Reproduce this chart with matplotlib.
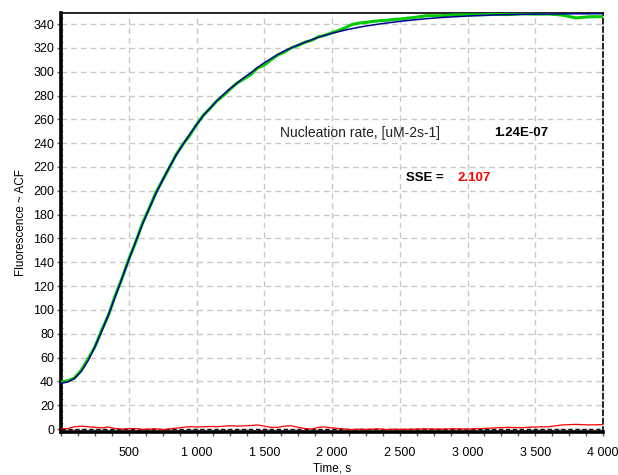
import matplotlib
matplotlib.use("Agg")
import matplotlib.pyplot as plt
from matplotlib.ticker import MultipleLocator, FuncFormatter

plt.rcParams['font.family'] = ['Liberation Sans', 'DejaVu Sans']

# Time grid (s)
time_s = [0, 50, 100, 150, 200, 250, 300, 350, 400, 450, 500, 550, 600, 650, 700,
          750, 800, 850, 900, 950, 1000, 1050, 1100, 1150, 1200, 1250, 1300, 1350,
          1400, 1450, 1500, 1550, 1600, 1650, 1700, 1750, 1800, 1850, 1900, 1950,
          2000, 2050, 2100, 2150, 2200, 2250, 2300, 2350, 2400, 2450, 2500, 2600,
          2700, 2800, 2900, 3000, 3100, 3200, 3300, 3400, 3500, 3600, 3700, 3800,
          3900, 4000]

# Model fit (blue)
fit_acf = [38.5, 39.5, 42.5, 48.5, 57.5, 69, 82, 96, 111, 126.5, 142, 157, 171.5,
           185, 197.5, 209, 220, 230, 239, 247.5, 255.5, 263, 269.5, 275.5, 281,
           286, 290.5, 295, 299, 303.5, 307.5, 311, 314.5, 317.5, 320, 322.5,
           324.7, 326.8, 328.8, 330.6, 332.2, 333.6, 335, 336.2, 337.3, 338.3,
           339.2, 340, 340.8, 341.5, 342.2, 343.4, 344.5, 345.4, 346.1, 346.7,
           347.2, 347.6, 347.9, 348.1, 348.3, 348.4, 348.5, 348.6, 348.6, 348.7]

# Measured fluorescence (green)
data_acf = [39.5, 40.5, 43, 49.5, 59, 69, 83, 95.5, 112, 126.5, 142.5, 156.5,
            172.5, 185, 198.5, 209, 219.5, 230.5, 239, 246.5, 255.5, 263.5, 269,
            275.5, 280, 285.5, 290.5, 294, 297.5, 303, 305.5, 310, 314, 316.5,
            320, 322, 324.7, 326.3, 329.3, 330.6, 332.7, 334.6, 337, 339.7, 340.8,
            341.3, 342.2, 342.7, 343.1, 343.8, 344.2, 345.4, 347, 346.9, 347.6,
            347.7, 347.7, 348.1, 347.9, 348.6, 348.3, 348.4, 347.5, 345.1, 346.1,
            346.2]

# Residuals (red)
resid = [0.3, 0.5, 2, 2.5, 2, 1.5, 1, 1.8, 0.5, 0, 0.3, 0.5, -0.3, 0, 0.3, -0.5,
         0.2, 0.8, 1.5, 2, 1.8, 2, 2.2, 2, 2.5, 2.8, 2.5, 2.7, 3, 3.5, 2.5, 1.5,
         1.5, 2.5, 2.8, 1.5, 0.5, 0, 1.5, 1.8, 1, 0.5, 0, -0.5, 0, -0.3, 0, 0.2,
         -0.5, 0, -0.3, 0, 0.2, 0, 0.3, 0, 0.5, 1, 1.5, 1.2, 1.8, 2, 3.5, 4, 3.5,
         3.8]

y_major = list(range(0, 341, 20))
x_major = [500, 1000, 1500, 2000, 2500, 3000, 3500, 4000]

W, H = 618, 475
fig = plt.figure(figsize=(W / 100, H / 100), dpi=100)
ax = fig.add_axes([61 / W, 1 - 431.5 / H, (603 - 61) / W, (431.5 - 13.3) / H])

ax.set_xlim(0, 4000)
ax.set_ylim(-2, 349)

ax.grid(True, which='major', color='#c8c8c8', linestyle=(0, (4, 3)), linewidth=1)
ax.set_axisbelow(True)

ax.axhline(0, color='black', linestyle=(0, (3, 2)), linewidth=1, zorder=2)
ax.plot(time_s, resid, color='#ff0000', linewidth=0.9, zorder=3)
ax.plot(time_s, data_acf, color='#00cc00', linewidth=2.2, zorder=4)
ax.plot(time_s, fit_acf, color='#000099', linewidth=1.1, zorder=5)

ax.set_yticks(y_major)
ax.set_xticks(x_major)
ax.xaxis.set_minor_locator(MultipleLocator(125))
ax.yaxis.set_minor_locator(MultipleLocator(5))
ax.xaxis.set_major_formatter(FuncFormatter(lambda v, p: f"{int(v):,}".replace(",", " ")))

ax.tick_params(axis='both', which='major', labelsize=9, length=3, width=1,
               color='#555555', pad=2)
ax.tick_params(axis='x', which='major', pad=8)
ax.tick_params(axis='x', which='minor', length=3, width=1, color='#555555')
ax.tick_params(axis='y', which='minor', length=1.5, width=0.8, color='#999999',
               direction='in')

for side in ('left', 'bottom'):
    ax.spines[side].set_linewidth(2.6)
ax.spines['top'].set_linewidth(1.2)
ax.spines['right'].set_linewidth(1.2)
ax.spines['right'].set_linestyle((0, (3, 2)))

ax.set_ylabel('Fluorescence ~ ACF', fontsize=8.5, labelpad=4)
ax.set_xlabel('Time, s', fontsize=8.5, labelpad=3)

ax.text(1613, 248.4, 'Nucleation rate, [uM-2s-1]', fontsize=10, va='center',
        ha='left', color='#222222')
ax.text(3196, 248.4, '1.24E-07', fontsize=9.5, fontweight='bold', va='center',
        ha='left', color='black')
ax.text(2544, 211, 'SSE = ', fontsize=9.5, fontweight='bold', va='center',
        ha='left', color='black')
ax.text(2925, 211, '2.107', fontsize=9.5, fontweight='bold', va='center',
        ha='left', color='#ff0000')

fig.savefig('out.png', dpi=100)
